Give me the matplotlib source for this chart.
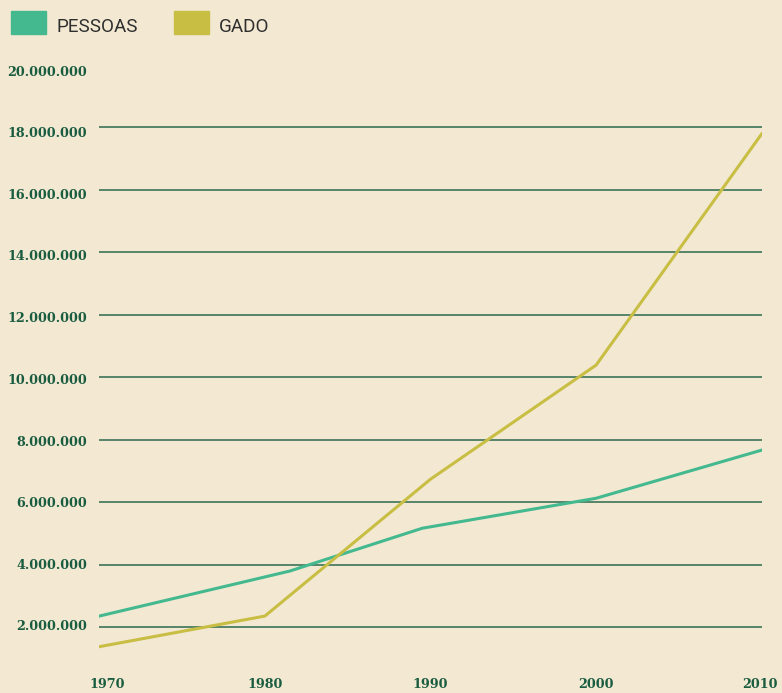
import matplotlib
matplotlib.use("Agg")
import matplotlib.pyplot as plt
import matplotlib.transforms as mtransforms
from matplotlib.patches import Rectangle

# dados
anos_pessoas = [1970, 1981.5, 1989.5, 2000, 2010]
pessoas = [2350000, 3790000, 5160000, 6120000, 7660000]
anos_gado = [1970, 1980, 1990, 2000, 2010]
gado = [1370000, 2350000, 6730000, 10380000, 17780000]

y_ticks = [2000000, 4000000, 6000000, 8000000, 10000000, 12000000,
           14000000, 16000000, 18000000, 20000000]
x_ticks = [1970, 1980, 1990, 2000, 2010]
legenda = ["PESSOAS", "GADO"]

fundo = "#f3e9d2"
verde = "#44b98f"
amarelo = "#c9be44"
verde_escuro = "#1a5c40"
grade = "#2c6a4d"

fig = plt.figure(figsize=(7.82, 6.93), dpi=100, facecolor=fundo)
ax = fig.add_axes([99.3 / 782, 3.5 / 693, 662.4 / 782, 625 / 693])
ax.set_facecolor(fundo)
ax.set_xlim(1970, 2010)
ax.set_ylim(0, 20000000)
for s in ax.spines.values():
    s.set_visible(False)
ax.set_xticks([])
ax.set_yticks([])

# linhas de grade (sem a de 20 milhoes)
for v in y_ticks[:-1]:
    ax.axhline(v, color=grade, lw=1.1, zorder=1)

ax.plot(anos_pessoas, pessoas, color=verde, lw=2.2, zorder=3)
ax.plot(anos_gado, gado, color=amarelo, lw=2.2, zorder=3)

fonte_eixo = dict(family=["DejaVu Serif"], weight="bold", size=9.2, color=verde_escuro)

# rotulos do eixo y, descendo um pouco em relacao a grade no topo
trans_y = mtransforms.blended_transform_factory(fig.transFigure, ax.transData)
for v in y_ticks:
    rot = f"{v:,}".replace(",", ".")
    desc = (v - y_ticks[0]) / (y_ticks[-1] - y_ticks[0]) * 7.5
    off = mtransforms.ScaledTranslation(0, -desc / 100, fig.dpi_scale_trans)
    fig.text(87 / 782, v, rot, ha="right", va="center",
             transform=trans_y + off, **fonte_eixo)

# rotulos do eixo x (o primeiro encostado a esquerda)
trans_x = mtransforms.blended_transform_factory(ax.transData, fig.transFigure)
for i, a in enumerate(x_ticks):
    dx = 8 if i == 0 else (-2 if i == len(x_ticks) - 1 else 0)
    off = mtransforms.ScaledTranslation(dx / 100, 0, fig.dpi_scale_trans)
    fig.text(a, 1 - 685 / 693, str(a), ha="center", va="center",
             transform=trans_x + off, **fonte_eixo)

# legenda
cores = [verde, amarelo]
xs = [11, 174]
for nome, cor, x0 in zip(legenda, cores, xs):
    fig.patches.append(Rectangle((x0 / 782, 1 - 34 / 693), 35 / 782, 23 / 693,
                                 transform=fig.transFigure, color=cor))
    fig.text((x0 + 45) / 782, 1 - 27 / 693, nome, ha="left", va="center",
             family=["Roboto", "DejaVu Sans"], size=13.6, color="#2f2f2f")

fig.savefig("out.png", dpi=100, facecolor=fundo)
